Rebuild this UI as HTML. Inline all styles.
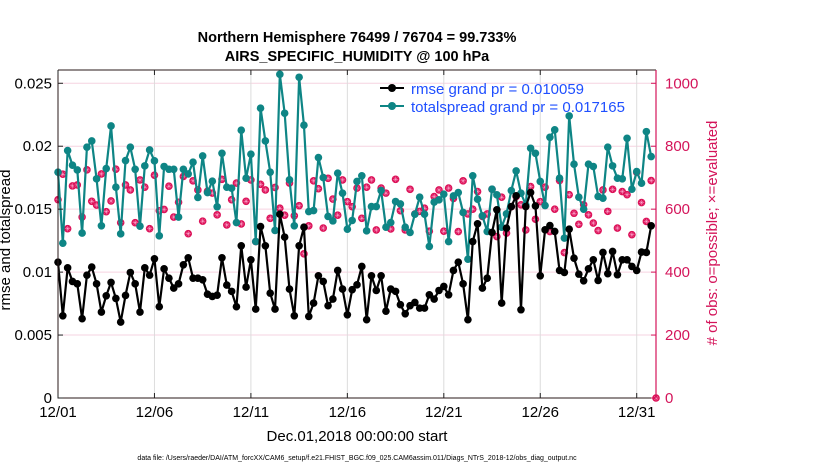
<!DOCTYPE html>
<html><head><meta charset="utf-8"><style>
body{margin:0;background:#fff;}
svg{display:block;font-family:"Liberation Sans",Arial,sans-serif;}
</style></head><body>
<svg id="chart" width="830" height="470" viewBox="0 0 830 470" xmlns="http://www.w3.org/2000/svg">
<g id="grid"></g>
<g id="series"></g>
<g id="axes"></g>
<text x="357" y="42" text-anchor="middle" font-size="14.5" font-weight="bold">Northern Hemisphere 76499 / 76704 = 99.733%</text>
<text x="357" y="61" text-anchor="middle" font-size="14.5" font-weight="bold">AIRS_SPECIFIC_HUMIDITY @ 100 hPa</text>
<text x="357" y="441" text-anchor="middle" font-size="15">Dec.01,2018 00:00:00 start</text>
<text x="357" y="460" text-anchor="middle" font-size="7">data file: /Users/raeder/DAI/ATM_forcXX/CAM6_setup/f.e21.FHIST_BGC.f09_025.CAM6assim.011/Diags_NTrS_2018-12/obs_diag_output.nc</text>
<text transform="translate(10,240) rotate(-90)" text-anchor="middle" font-size="15">rmse and totalspread</text>
<text transform="translate(717,233) rotate(-90)" text-anchor="middle" font-size="15" fill="#d4145a"># of obs: o=possible; ×=evaluated</text>
<g>
<line x1="380" y1="88" x2="404" y2="88" stroke="#000" stroke-width="2"/><circle cx="392" cy="88" r="4" fill="#000"/>
<text x="411" y="94" font-size="15" fill="#1f4fff">rmse grand pr = 0.010059</text>
<line x1="380" y1="106" x2="404" y2="106" stroke="#0e8585" stroke-width="2"/><circle cx="392" cy="106" r="4" fill="#0e8585"/>
<text x="411" y="112" font-size="15" fill="#1f4fff">totalspread grand pr = 0.017165</text>
</g>
</svg>
<script>
const rmse=[0.01079,0.00653,0.01034,0.00926,0.00907,0.00630,0.00976,0.01040,0.00907,0.00683,0.00812,0.00918,0.00791,0.00603,0.00815,0.00997,0.00907,0.00683,0.01034,0.00976,0.01106,0.00725,0.01026,0.00952,0.00873,0.00907,0.01058,0.01114,0.00952,0.00952,0.00939,0.00825,0.00807,0.00817,0.01114,0.00897,0.00847,0.00725,0.01209,0.00881,0.01098,
0.00706,0.01362,0.01209,0.00833,0.00706,0.01460,0.01278,0.00865,0.00653,0.01209,0.01357,0.00648,0.00754,0.00971,0.00926,0.00733,0.00786,0.01013,0.00865,0.00661,0.00860,0.00899,0.01045,0.00622,0.00971,0.00854,0.00971,0.00690,0.00865,0.00847,0.00741,0.00669,0.00733,0.00759,0.00714,0.00714,0.00820,0.00786,0.00854,0.00886,0.00820,
0.01013,0.01079,0.00907,0.00622,0.01243,0.01384,0.00873,0.00952,0.01315,0.01495,0.00754,0.01349,0.01521,0.01606,0.00701,0.01521,0.01632,0.01526,0.00971,0.01336,0.01370,0.01323,0.01013,0.00997,0.01341,0.01111,0.00984,0.00931,0.01026,0.01098,0.00934,0.01156,0.00987,0.01164,0.00979,0.01098,0.01098,0.01045,0.01013,0.01159,0.01156,0.01368];
const spread=[0.01794,0.01230,0.01966,0.01849,0.01812,0.01310,0.01992,0.02042,0.01741,0.01368,0.01823,0.02161,0.01675,0.01304,0.01886,0.01992,0.01817,0.01365,0.01844,0.01971,0.01884,0.01288,0.01839,0.01817,0.01817,0.01437,0.01817,0.01780,0.01873,0.01593,0.01923,0.01632,0.01722,0.01519,0.01944,0.01675,0.01667,0.01394,0.02127,0.01746,0.01937,
0.01243,0.02302,0.02042,0.01794,0.01331,0.02571,0.02262,0.01733,0.01368,0.02548,0.02167,0.01481,0.01489,0.01910,0.01751,0.01442,0.01407,0.01786,0.01627,0.01341,0.01410,0.01720,0.01765,0.01328,0.01521,0.01521,0.01648,0.01357,0.01394,0.01561,0.01542,0.01357,0.01315,0.01460,0.01595,0.01460,0.01204,0.01556,0.01574,0.01619,0.01243,
0.01605,0.01632,0.01474,0.01103,0.01765,0.01579,0.01447,0.01323,0.01659,0.01614,0.01357,0.01463,0.01648,0.01804,0.01627,0.01534,0.01984,0.01944,0.01720,0.01529,0.02071,0.02130,0.01746,0.01270,0.02241,0.01857,0.01595,0.01500,0.01857,0.01839,0.01601,0.01587,0.01992,0.01844,0.01746,0.01741,0.02063,0.01659,0.01799,0.01706,0.02116,0.01918];
const nobs=[630,711,538,674,677,575,725,625,613,712,592,626,727,557,677,661,557,693,670,538,708,595,599,673,575,622,704,522,690,661,562,657,651,582,695,550,630,683,553,625,693,
497,679,661,571,669,603,581,683,579,611,458,547,690,665,540,698,632,581,693,624,608,667,571,670,693,534,667,651,537,695,595,534,663,585,593,603,530,640,661,530,667,
634,529,690,585,600,656,577,585,663,513,638,524,608,640,614,534,672,568,624,670,529,600,691,462,646,587,552,614,582,556,532,661,593,663,540,656,646,519,717,621,561,691,0];
const xTickLabels=["12/01","12/06","12/11","12/16","12/21","12/26","12/31"];
const xTickDays=[0,5,10,15,20,25,30];
const leftTicks=[0,0.005,0.01,0.015,0.02,0.025];
const leftTickLabels=["0","0.005","0.01","0.015","0.02","0.025"];
const rightTicks=[0,200,400,600,800,1000];

const X0=58,X1=656,Y0=398,Y1=70,DAYS=31,LMAX=0.026055,RMAX=1042.2,STEP=0.25;
const xs=d=>X0+(X1-X0)*d/DAYS;
const yl=v=>Y0-(Y0-Y1)*v/LMAX;
const yr=v=>Y0-(Y0-Y1)*v/RMAX;
const NS="http://www.w3.org/2000/svg";
function mk(tag,attrs,parent){const e=document.createElementNS(NS,tag);for(const k in attrs)e.setAttribute(k,attrs[k]);parent.appendChild(e);return e;}
const grid=document.getElementById('grid'),ser=document.getElementById('series'),ax=document.getElementById('axes');
leftTicks.forEach((v,i)=>{if(v>0){const l=mk('line',{x1:X0,x2:X1,y1:yl(v),y2:yl(v),stroke:'#f6d3e0','stroke-width':1},grid);

}});
xTickDays.forEach((d,i)=>{if(d>0){const l=mk('line',{x1:xs(d),x2:xs(d),y1:Y0,y2:Y1,stroke:'#dcdcdc','stroke-width':1},grid);

}});
nobs.forEach((v,i)=>{const g=mk('g',{},ser);


const cx=xs(i*STEP),cy=yr(v);
mk('circle',{cx:cx,cy:cy,r:3.8,fill:'#dc1158'},g);
mk('path',{d:`M${cx-2.6} ${cy}H${cx+2.6}M${cx} ${cy-2.6}V${cy+2.6}M${cx-1.8} ${cy-1.8}L${cx+1.8} ${cy+1.8}M${cx-1.8} ${cy+1.8}L${cx+1.8} ${cy-1.8}`,stroke:'#fbd',"stroke-width":0.45},g);});
function line(arr,color,name){const p=mk('polyline',{points:arr.map((v,i)=>xs(i*STEP)+','+yl(v)).join(' '),fill:'none',stroke:color,'stroke-width':2.2,'stroke-linejoin':'round'},ser);


arr.forEach((v,i)=>{const c=mk('circle',{cx:xs(i*STEP),cy:yl(v),r:3.8,fill:color},ser);

});}
line(spread,'#0e8585','totalspread');
line(rmse,'#000','rmse');
const frame=mk('path',{d:`M${X0} ${Y1}V${Y0}H${X1}M${X0} ${Y1}H${X1}`,stroke:'#2a1a1a','stroke-width':1,fill:'none'},ax);


const ra=mk('line',{x1:X1,x2:X1,y1:Y1,y2:Y0,stroke:'#d4145a','stroke-width':1.2},ax);


leftTicks.forEach((v,i)=>{mk('line',{x1:X0,x2:X0+5,y1:yl(v),y2:yl(v),stroke:'#222'},ax);
const t=mk('text',{x:X0-6,y:yl(v)+5,'text-anchor':'end','font-size':15},ax);t.textContent=leftTickLabels[i];

});
rightTicks.forEach((v,i)=>{mk('line',{x1:X1-5,x2:X1,y1:yr(v),y2:yr(v),stroke:'#d4145a'},ax);
const t=mk('text',{x:X1+9,y:yr(v)+5,'font-size':15,fill:'#d4145a'},ax);t.textContent=String(v);

});
xTickDays.forEach((d,i)=>{mk('line',{x1:xs(d),x2:xs(d),y1:Y0,y2:Y0-5,stroke:'#222'},ax);mk('line',{x1:xs(d),x2:xs(d),y1:Y1,y2:Y1+5,stroke:'#222'},ax);
const t=mk('text',{x:xs(d),y:417,'text-anchor':'middle','font-size':15},ax);t.textContent=xTickLabels[i];

});
</script>
</body></html>
